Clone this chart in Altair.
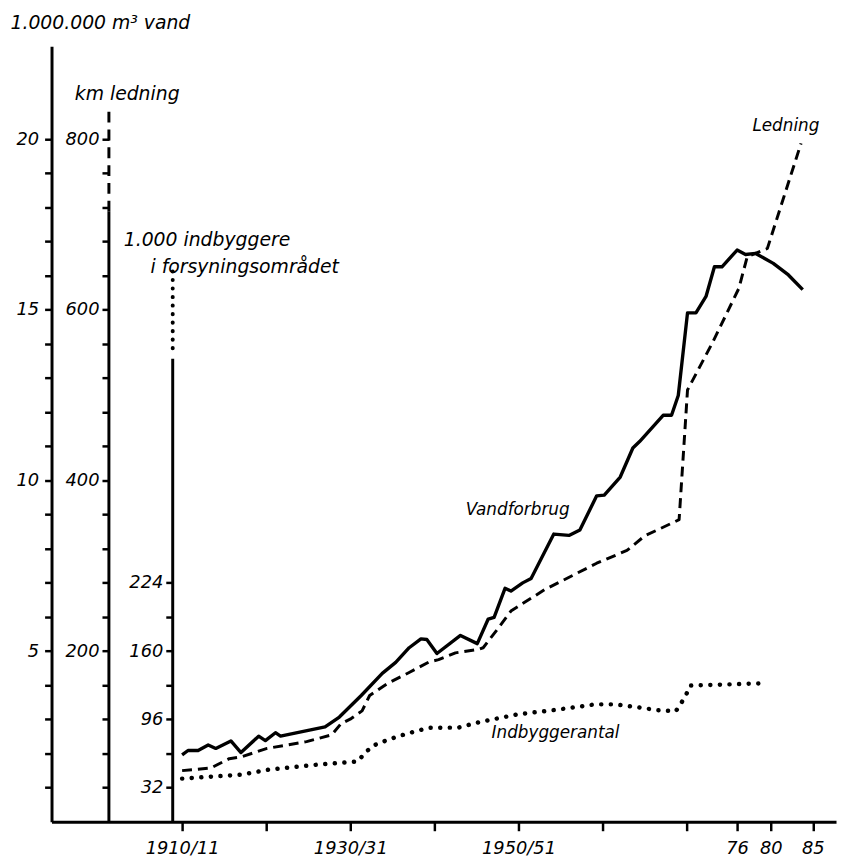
import altair as alt
import pandas as pd

# ---------------- data ----------------
# Vandforbrug, 1.000.000 m3 vand
vand_years = [1910.0, 1910.7, 1911.9, 1913.1, 1914.0, 1915.8, 1917.0, 1919.1, 1919.9, 1921.1,
              1921.7, 1927.0, 1928.7, 1931.3, 1933.8, 1935.4, 1937.0, 1938.4, 1939.1, 1940.3,
              1943.1, 1945.1, 1946.4, 1947.1, 1948.4, 1949.1, 1950.5, 1951.5, 1954.2, 1956.0,
              1957.3, 1959.3, 1960.2, 1962.1, 1963.6, 1964.4, 1967.2, 1968.2, 1969.0, 1970.1,
              1971.1, 1972.3, 1973.3, 1974.2, 1976.0, 1977.0, 1978.2, 1980.3, 1982.1, 1983.8]
vand_values = [1.96, 2.09, 2.09, 2.25, 2.15, 2.37, 2.03, 2.51, 2.38, 2.61,
               2.51, 2.78, 3.07, 3.70, 4.35, 4.67, 5.10, 5.36, 5.34, 4.93,
               5.46, 5.22, 5.94, 5.99, 6.84, 6.76, 7.00, 7.13, 8.43, 8.39,
               8.55, 9.55, 9.57, 10.10, 10.95, 11.14, 11.91, 11.91, 12.49, 14.91,
               14.91, 15.39, 16.26, 16.26, 16.75, 16.62, 16.65, 16.36, 16.02, 15.59]

# Ledning, km
ledning_years = [1910.0, 1913.4, 1915.6, 1917.0, 1920.1, 1922.5, 1924.8, 1927.8, 1928.9, 1930.1,
                 1931.4, 1932.3, 1934.4, 1937.0, 1939.3, 1940.5, 1942.5, 1945.2, 1945.8, 1947.6,
                 1949.1, 1953.1, 1959.3, 1962.9, 1965.0, 1969.1, 1970.1, 1973.1, 1976.2, 1977.2,
                 1979.6, 1983.6]
ledning_km = [60, 63, 74, 76, 86, 90, 94, 102, 115, 121,
              130, 148, 162, 175, 187, 190, 198, 202, 204, 227,
              247, 272, 303, 318, 335, 354, 506, 562, 625, 662,
              672, 795]

# Indbyggere i forsyningsområdet, 1.000
indb_years = [1910.0, 1917.0, 1920.3, 1926.0, 1930.9, 1931.7, 1932.7, 1934.6, 1936.8, 1939.3,
              1942.9, 1945.1, 1949.9, 1954.6, 1959.1, 1961.5, 1964.0, 1966.6, 1968.7, 1969.3,
              1969.9, 1970.4, 1979.5]
indb_thousands = [40.5, 44.2, 48.9, 53.5, 56.6, 64.3, 71.4, 77.3, 82.8, 88.1,
                  88.4, 93.0, 100.8, 105.1, 110.1, 110.1, 107.6, 104.6, 103.6, 110.7,
                  118.4, 127.7, 129.9]

# axis ticks / labels
x_tick_values = [1910, 1920, 1930, 1940, 1950, 1960, 1970, 1976, 1980, 1985]
x_tick_labels = ["1910/11", "", "1930/31", "", "1950/51", "", "", "76", "80", "85"]
vand_ticks = list(range(1, 21))
vand_labels = [5, 10, 15, 20]
ledning_ticks = list(range(40, 801, 40))
ledning_labels = [200, 400, 600, 800]
indb_ticks = [32, 64, 96, 128, 160, 192, 224]
indb_labels = [32, 96, 160, 224]

# series labels and their anchors (year, 1.000.000 m3 scale)
series_names = ["Vandforbrug", "Ledning", "Indbyggerantal"]
series_label_years = [1949.9, 1981.8, 1954.4]
series_label_vals = [8.99, 20.23, 2.46]

# titles
vand_title = "1.000.000 m³ vand"
ledning_title = "km ledning"
indb_title_1 = "1.000 indbyggere"
indb_title_2 = "i forsyningsområdet"

# ---------------- layout / style ----------------
FONT = "DejaVu Sans"
W, H = 793, 784
YMAX = 22.72              # top of the 1.000.000 m3 scale
KM_PER_UNIT = 40.0        # km ledning per 1.000.000 m3 unit
INDB_PER_UNIT = 32.0      # 1.000 indbyggere per unit
XMIN, XMAX = 1894.47, 1987.76
LED_OFF, INDB_OFF = 58, 122.5  # inner axes, px from left edge
LED_SOLID_TOP, LED_DASH_TOP = 715, 832
INDB_SOLID_TOP, INDB_DOT_BOTTOM, INDB_DOT_TOP = 434, 444, 523

x_expr = "".join(f"datum.value == {v} ? '{l}' : " for v, l in zip(x_tick_values, x_tick_labels) if l) + "''"

x_axis = alt.Axis(values=x_tick_values, labelExpr=x_expr, title=None, tickSize=9, tickWidth=2.5,
                  domainWidth=3, labelPadding=9, labelFontSize=18, labelOverlap=False,
                  labelFlush=False, grid=False)
X = alt.X("year:Q", scale=alt.Scale(domain=[XMIN, XMAX], nice=False, zero=False), axis=x_axis)


def lab_expr(vals):
    return "indexof([" + ",".join(str(v) for v in vals) + "], datum.value) >= 0 ? datum.label : ''"


common_axis = dict(orient="left", grid=False, tickSize=7, tickWidth=2.5, labelFontSize=18,
                   titleAngle=0, titleAlign="left", titleBaseline="alphabetic",
                   titleFontSize=19, labelOverlap=False, labelFlush=False)

water_axis = alt.Axis(values=vand_ticks, labelExpr=lab_expr(vand_labels), domainWidth=3,
                      labelPadding=6, title=vand_title, titleX=-42, titleY=-18,
                      **common_axis)
ledning_axis = alt.Axis(values=ledning_ticks, labelExpr=lab_expr(ledning_labels), domain=False,
                        offset=-LED_OFF, labelPadding=3, title=ledning_title, titleX=-35, titleY=54,
                        **common_axis)
indb_axis = alt.Axis(values=indb_ticks, labelExpr=lab_expr(indb_labels), domain=False,
                     offset=-INDB_OFF, labelPadding=3, title=indb_title_1,
                     titleX=-50, titleY=201, **common_axis)

vand_scale = alt.Scale(domain=[0, YMAX], nice=False, zero=True)
led_scale = alt.Scale(domain=[0, YMAX * KM_PER_UNIT], nice=False, zero=True)
indb_scale = alt.Scale(domain=[0, YMAX * INDB_PER_UNIT], nice=False, zero=True)

vand_df = pd.DataFrame({"year": vand_years, "v": vand_values})
led_df = pd.DataFrame({"year": ledning_years, "v": ledning_km})
indb_df = pd.DataFrame({"year": indb_years, "v": indb_thousands})
lab_df = pd.DataFrame({"year": series_label_years, "v": series_label_vals, "label": series_names})

# water layer
water_line = alt.Chart(vand_df).mark_line(color="black", strokeWidth=3.4, strokeJoin="round").encode(
    x=X, y=alt.Y("v:Q", scale=vand_scale, axis=water_axis))
water_text = alt.Chart(lab_df).mark_text(font=FONT, fontSize=17, fontStyle="italic", align="center",
                                          baseline="alphabetic", color="black").encode(
    x=X, y=alt.Y("v:Q", scale=vand_scale, axis=water_axis), text="label:N")
water_layer = alt.layer(water_line, water_text)

# ledning layer
led_line = alt.Chart(led_df).mark_line(color="black", strokeWidth=3, strokeDash=[10, 6],
                                        strokeJoin="round").encode(
    x=X, y=alt.Y("v:Q", scale=led_scale, axis=ledning_axis))
led_solid = alt.Chart(pd.DataFrame({"y0": [0], "y1": [LED_SOLID_TOP]})).mark_rule(
    color="black", strokeWidth=3).encode(
    x=alt.value(LED_OFF), y=alt.Y("y0:Q", scale=led_scale, axis=ledning_axis), y2="y1:Q")
led_dash = alt.Chart(pd.DataFrame({"y0": [LED_SOLID_TOP], "y1": [LED_DASH_TOP]})).mark_rule(
    color="black", strokeWidth=3, strokeDash=[11, 7]).encode(
    x=alt.value(LED_OFF), y=alt.Y("y0:Q", scale=led_scale, axis=ledning_axis), y2="y1:Q")
led_layer = alt.layer(led_line, led_solid, led_dash)

# indbyggere layer
indb_line = alt.Chart(indb_df).mark_line(color="black", strokeWidth=4.5, strokeDash=[0.1, 9.6],
                                          strokeCap="round").encode(
    x=X, y=alt.Y("v:Q", scale=indb_scale, axis=indb_axis))
indb_solid = alt.Chart(pd.DataFrame({"y0": [0], "y1": [INDB_SOLID_TOP]})).mark_rule(
    color="black", strokeWidth=3).encode(
    x=alt.value(INDB_OFF), y=alt.Y("y0:Q", scale=indb_scale, axis=indb_axis), y2="y1:Q")
indb_dot = alt.Chart(pd.DataFrame({"y0": [INDB_DOT_BOTTOM], "y1": [INDB_DOT_TOP]})).mark_rule(
    color="black", strokeWidth=4, strokeDash=[0.1, 8.5], strokeCap="round").encode(
    x=alt.value(INDB_OFF), y=alt.Y("y0:Q", scale=indb_scale, axis=indb_axis), y2="y1:Q")
indb_title_line2 = alt.Chart(pd.DataFrame({"t": [indb_title_2]})).mark_text(
    font=FONT, fontSize=19, fontStyle="italic", align="left", baseline="alphabetic",
    color="black").encode(x=alt.value(100), y=alt.value(229), text="t:N")
indb_layer = alt.layer(indb_line, indb_solid, indb_dot, indb_title_line2)

chart = alt.layer(water_layer, led_layer, indb_layer).resolve_scale(y="independent").properties(
    width=W, height=H, autosize=alt.AutoSizeParams(type="none"),
    padding={"left": 44, "top": 34, "right": 2, "bottom": 40},
    background="white",
).configure_view(stroke=None).configure_axis(
    labelFont=FONT, titleFont=FONT, labelColor="black", titleColor="black",
    domainColor="black", tickColor="black", labelFontStyle="italic",
    titleFontStyle="italic", titleFontWeight="normal",
)

chart.save("out.html", embed_options={"renderer": "svg", "actions": False})
